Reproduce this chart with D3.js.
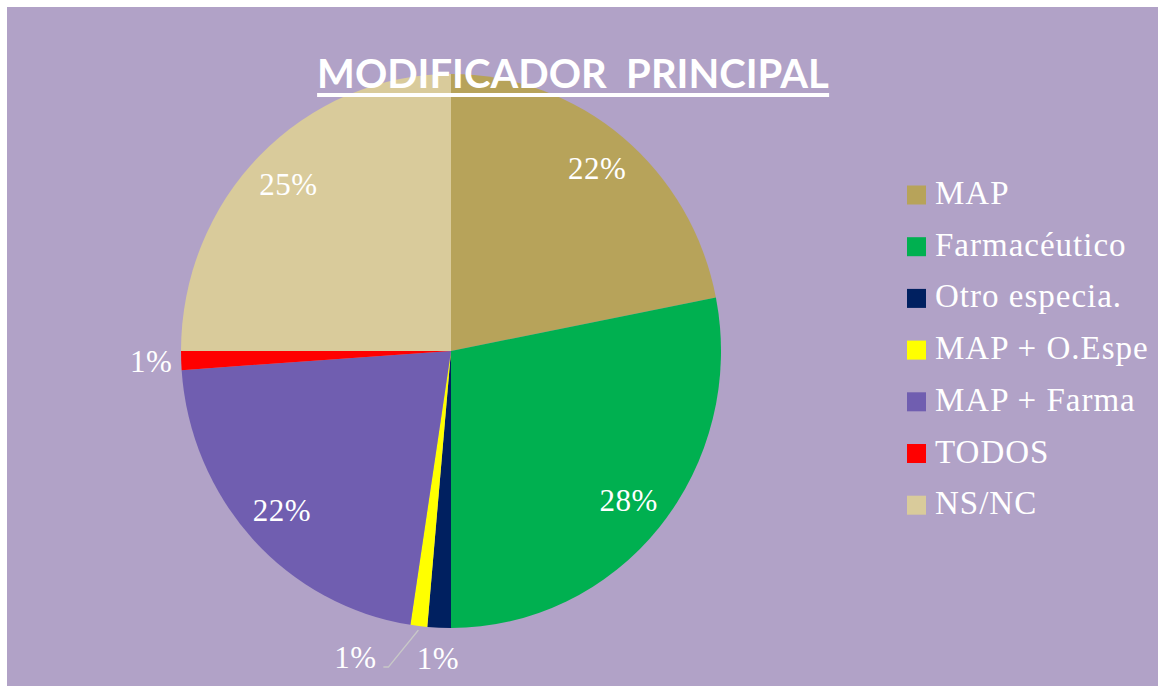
<!DOCTYPE html>
<html><head><meta charset="utf-8">
<script src="https://cdn.jsdelivr.net/npm/d3@7"></script>
<style>html,body{margin:0;padding:0;background:#fff;}svg{display:block;}</style>
</head><body>
<svg id="chart" width="1158" height="686"></svg>
<script>
const title = "MODIFICADOR  PRINCIPAL";
const categories = ["MAP", "Farmacéutico", "Otro especia.", "MAP + O.Espe", "MAP + Farma", "TODOS", "NS/NC"];
const values = [21.9, 28.1, 1.4, 1.0, 21.5, 1.1, 25.0];
const labels = ["22%", "28%", "1%", "1%", "22%", "1%", "25%"];
const colors = ["#B7A35A", "#00B050", "#002060", "#FFFF00", "#705EB0", "#FF0000", "#D9CB9B"];

const svg = d3.select("#chart");
const W = 1158, H = 686;
svg.append("rect").attr("x", 7).attr("y", 7).attr("width", W - 7).attr("height", H - 7).attr("fill", "#B1A2C7");

const cx = 451, cy = 351, R = 270, sy = 277 / 270;
const data = categories.map((c, i) => ({cat: c, v: values[i], label: labels[i], color: colors[i]}));
const pie = d3.pie().value(d => d.v).sort(null);
const arcs = pie(data);
const arc = d3.arc().innerRadius(0).outerRadius(R);

const g = svg.append("g").attr("transform", `translate(${cx},${cy}) scale(1,${sy})`);
g.selectAll("path").data(arcs).enter().append("path")
  .attr("d", arc).attr("fill", d => d.data.color);

const lg = svg.append("g").attr("transform", `translate(${cx},${cy})`);
const font = "'Liberation Serif', serif";
function pt(a, r) { return [Math.sin(a) * r, -Math.cos(a) * r * sy]; }
arcs.forEach((d, i) => {
  const a = (d.startAngle + d.endAngle) / 2;
  const small = d.data.v < 3;
  let p, anchor = "middle";
  if (!small) {
    p = pt(a, 230);
  } else if (d.data.cat === "MAP + O.Espe") {
    const p0 = pt(a, R + 4);
    const p1 = [p0[0] - 30, p0[1] + 37];
    const p2 = [p1[0] - 5, p1[1]];
    lg.append("polyline").attr("points", [p0, p1, p2].map(q => q.join(",")).join(" "))
      .attr("fill", "none").attr("stroke", "#C8C8C8").attr("stroke-width", 1.5);
    p = [p2[0] - 28, p2[1] - 10];
  } else {
    p = pt(a, 300);
  }
  lg.append("text").attr("x", p[0]).attr("y", p[1]).attr("text-anchor", anchor)
    .attr("dominant-baseline", "central")
    .attr("font-family", font).attr("font-size", 31).attr("letter-spacing", 0.5).attr("fill", "#fff").text(d.data.label);
});

// title
const t = svg.append("text").attr("x", 573).attr("y", 88).attr("text-anchor", "middle")
  .attr("font-family", "Lato, 'Open Sans', sans-serif").attr("font-weight", "bold").attr("font-size", 40)
  .attr("fill", "#fff").attr("xml:space", "preserve").style("white-space", "pre").text(title);
const bb = t.node().getBBox();
svg.append("rect").attr("x", bb.x).attr("y", 93).attr("width", bb.width).attr("height", 4).attr("fill", "#fff");

// legend
const leg = svg.append("g");
data.forEach((d, i) => {
  const y = 195 + i * 51.7;
  leg.append("rect").attr("x", 907).attr("y", y - 9.5).attr("width", 19).attr("height", 19).attr("fill", d.color);
  leg.append("text").attr("x", 935).attr("y", y + 9).attr("font-family", font).attr("font-size", 33)
    .attr("letter-spacing", 1).attr("fill", "#fff").text(d.cat);
});
</script>
</body></html>
